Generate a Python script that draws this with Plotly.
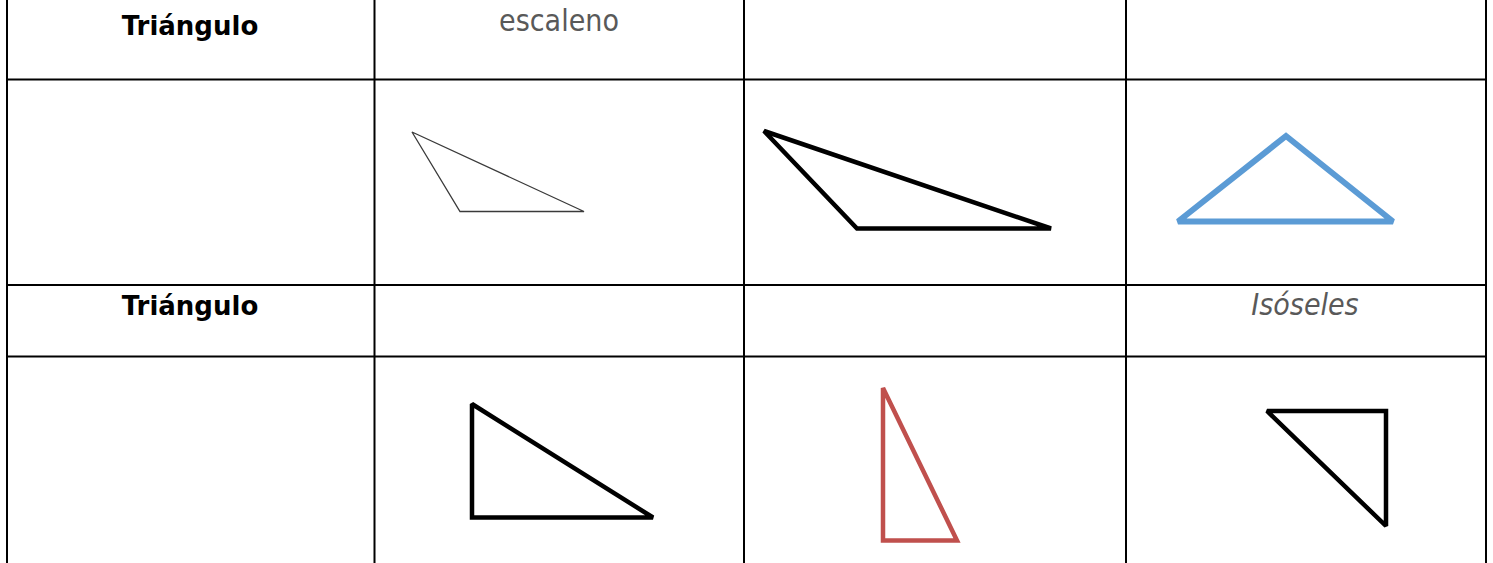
import plotly.graph_objects as go

W, H = 1493, 563

# table grid (pixel positions)
col_lines = [7, 374.5, 744, 1126, 1486]
row_lines = [79.5, 285, 356.5]

# header texts
header_labels = ["Triángulo", "Triángulo"]
header_x = [190, 190]
header_y = [28, 308]

# hand-written style labels
hand_labels = ["escaleno", "Isóseles"]
hand_x = [559, 1305]
hand_y = [23, 307]
hand_style = ["normal", "italic"]

# triangles: vertices x / y, colour, width
tri_x = [
    [412, 460, 584],
    [764, 857, 1051],
    [1286, 1178, 1393],
    [472, 472, 653],
    [883, 883, 957],
    [1267, 1386, 1386],
]
tri_y = [
    [132, 211.5, 211.5],
    [131, 228.5, 228.5],
    [136, 221.5, 221.5],
    [404, 517.5, 517.5],
    [388, 540.5, 540.5],
    [411, 411, 526],
]
tri_color = ["#3a3a3a", "#000000", "#5b9bd5", "#000000", "#c0504d", "#000000"]
tri_width = [1.3, 4.5, 6, 4.5, 4.5, 4.5]

fig = go.Figure()

# grid
gx, gy = [], []
for x in col_lines:
    gx += [x, x, None]
    gy += [-10, H + 10, None]
for y in row_lines:
    gx += [col_lines[0], col_lines[-1], None]
    gy += [y, y, None]
fig.add_trace(go.Scatter(x=gx, y=gy, mode="lines", line=dict(color="black", width=2),
                         hoverinfo="skip", showlegend=False))

# triangles
for xs, ys, c, w in zip(tri_x, tri_y, tri_color, tri_width):
    fig.add_trace(go.Scatter(x=xs + [xs[0], xs[1]], y=ys + [ys[0], ys[1]], mode="lines",
                             line=dict(color=c, width=w), hoverinfo="skip", showlegend=False))

# texts
fig.add_trace(go.Scatter(x=header_x, y=header_y, mode="text", text=header_labels,
                         textfont=dict(family="DejaVu Sans", size=26, color="black", weight="bold"),
                         hoverinfo="skip", showlegend=False))
for lab, x, y, st in zip(hand_labels, hand_x, hand_y, hand_style):
    fig.add_trace(go.Scatter(x=[x], y=[y], mode="text", text=[lab],
                             textfont=dict(family="DejaVu Sans Condensed", size=30,
                                           color="#595959", style=st),
                             hoverinfo="skip", showlegend=False))

fig.update_layout(
    width=W, height=H, autosize=False,
    margin=dict(l=0, r=0, t=0, b=0),
    paper_bgcolor="white", plot_bgcolor="white",
    xaxis=dict(range=[0, W], visible=False, fixedrange=True),
    yaxis=dict(range=[H, 0], visible=False, fixedrange=True),
)

fig.write_html("out.html", config={"displayModeBar": False},
               post_script="document.body.style.margin='0';")
